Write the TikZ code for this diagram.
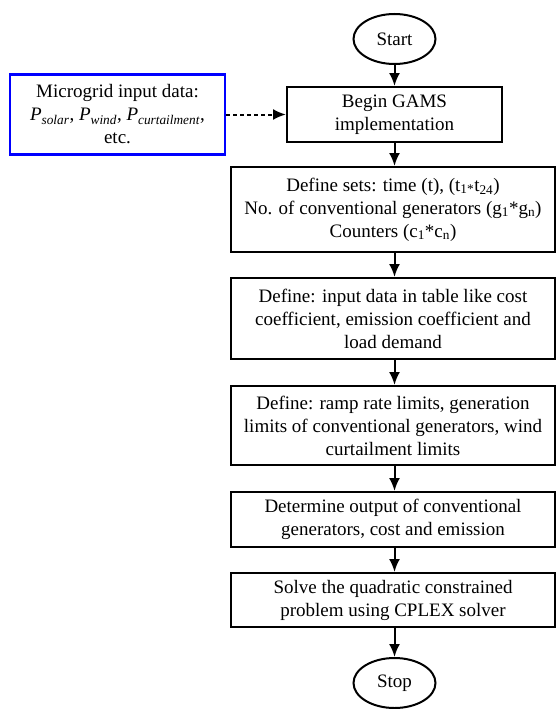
\documentclass[tikz,border=0pt]{standalone}
\usepackage{fontspec}
\setmainfont{Liberation Serif}
\usetikzlibrary{arrows.meta,shapes.geometric}

\begin{document}
\begin{tikzpicture}[x=1pt, y=-1pt,
    txt/.style={font=\fontsize{19}{23}\selectfont, align=center, inner sep=0pt},
    stepbox/.style={txt, draw, line width=2pt, minimum width=324pt},
    term/.style={txt, draw, ellipse, line width=2pt, minimum width=82pt, minimum height=50pt},
    arr/.style={line width=2pt, -{Latex[length=13pt,width=11pt]}}]
    \useasboundingbox (0,0) rectangle (556,709);

    \node [term] (start) at (394.5, 39) {Start};
    \node [stepbox, minimum width=215pt, minimum height=55pt] (begin) at (394.5, 114.5) {Begin GAMS\\implementation};
    \node [txt, draw=blue, line width=2.4pt, minimum width=215pt, minimum height=80pt] (input) at (117.5, 114.5)
        {Microgrid input data:\\
         \textit{P}\textsubscript{\textit{solar}}, \textit{P}\textsubscript{\textit{wind}}, \textit{P}\textsubscript{\textit{curtailment}},\\
         etc.};

    \node [stepbox, minimum height=85pt] (sets) at (393, 209.5)
        {Define sets: time (t), (t\textsubscript{1*}t\textsubscript{24})\\
         No. of conventional generators (g\textsubscript{1}*g\textsubscript{n})\\
         Counters (c\textsubscript{1}*c\textsubscript{n})};
    \node [stepbox, minimum height=81pt] (data) at (393, 318.5)
        {Define: input data in table like cost\\coefficient, emission coefficient and\\load demand};
    \node [stepbox, minimum height=79pt] (limits) at (393, 425.5)
        {Define: ramp rate limits, generation\\limits of conventional generators, wind\\curtailment limits};
    \node [stepbox, minimum height=55pt] (output) at (393, 519.5)
        {Determine output of conventional\\generators, cost and emission};
    \node [stepbox, minimum height=54pt] (solve) at (393, 600)
        {Solve the quadratic constrained\\problem using CPLEX solver};
    \node [term] (stop) at (394.5, 683) {Stop};

    \draw [arr, dash pattern=on 4pt off 3pt] (input) -- (begin);
    \draw [arr] (start) -- (begin);
    \draw [arr] (begin) -- (begin |- sets.north);
    \draw [arr] (sets.south -| begin) -- (begin |- data.north);
    \draw [arr] (data.south -| begin) -- (begin |- limits.north);
    \draw [arr] (limits.south -| begin) -- (begin |- output.north);
    \draw [arr] (output.south -| begin) -- (begin |- solve.north);
    \draw [arr] (solve.south -| stop) -- (stop);

\end{tikzpicture}
\end{document}
